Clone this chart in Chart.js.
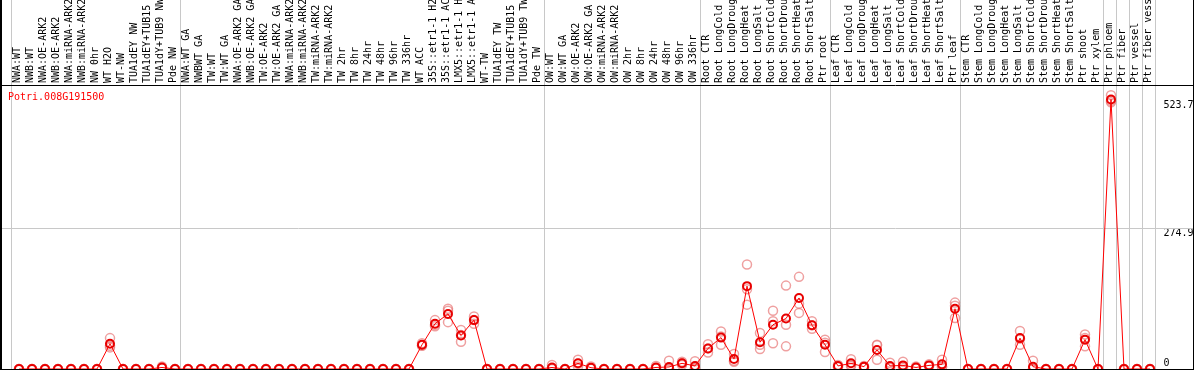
<!DOCTYPE html>
<html>
<head>
<meta charset="utf-8">
<script src="https://cdn.jsdelivr.net/npm/chart.js@4.4.1/dist/chart.umd.min.js"></script>
<style>
  html, body { margin: 0; padding: 0; background: #fff; }
  #wrap { width: 1194px; height: 370px; }
</style>
</head>
<body>
<div id="wrap"><canvas id="chart" width="1194" height="370"></canvas></div>
<script>
const geneName = 'Potri.008G191500';

const categories = [
  'NWA:WT', 'NWB:WT', 'NWA:OE-ARK2', 'NWB:OE-ARK2', 'NWA:miRNA-ARK2', 'NWB:miRNA-ARK2',
  'NW 0hr', 'WT H2O', 'WT-NW', 'TUA1dEY NW', 'TUA1dEY+TUB15', 'TUA1dY+TUB9 NW', 'Pde NW',
  'NWA:WT GA', 'NWBWT GA', 'TW:WT', 'TW:WT GA', 'NWA:OE-ARK2 GA', 'NWB:OE-ARK2 GA',
  'TW:OE-ARK2', 'TW:OE-ARK2 GA', 'NWA:miRNA-ARK2', 'NWB:miRNA-ARK2', 'TW:miRNA-ARK2', 'TW:miRNA-ARK2',
  'TW 2hr', 'TW 8hr', 'TW 24hr', 'TW 48hr', 'TW 96hr', 'TW 336hr', 'WT ACC',
  '35S::etr1-1 H2', '35S::etr1-1 AC', 'LMX5::etr1-1 H', 'LMX5::etr1-1 A',
  'WT-TW', 'TUA1dEY TW', 'TUA1dEY+TUB15', 'TUA1dY+TUB9 TW', 'Pde TW',
  'OW:WT', 'OW:WT GA', 'OW:OE-ARK2', 'OW:OE-ARK2 GA', 'OW:miRNA-ARK2', 'OW:miRNA-ARK2',
  'OW 2hr', 'OW 8hr', 'OW 24hr', 'OW 48hr', 'OW 96hr', 'OW 336hr',
  'Root CTR', 'Root LongCold', 'Root LongDroug', 'Root LongHeat', 'Root LongSalt',
  'Root ShortCold', 'Root ShortDrou', 'Root ShortHeat', 'Root ShortSalt', 'Ptr root',
  'Leaf CTR', 'Leaf LongCold', 'Leaf LongDroug', 'Leaf LongHeat', 'Leaf LongSalt',
  'Leaf ShortCold', 'Leaf ShortDrou', 'Leaf ShortHeat', 'Leaf ShortSalt', 'Ptr leaf',
  'Stem CTR', 'Stem LongCold', 'Stem LongDroug', 'Stem LongHeat', 'Stem LongSalt',
  'Stem ShortCold', 'Stem ShortDrou', 'Stem ShortHeat', 'Stem ShortSalt', 'Ptr shoot', 'Ptr xylem',
  'Ptr phloem', 'Ptr fiber', 'Ptr vessel', 'Ptr fiber vess'
];

// number of samples in each block between the grey separators
const groupSizes = [13, 28, 12, 10, 10, 11, 1, 1, 1, 1];

const meanValues = [
  0, 0, 0, 0, 0, 0, 0, 49, 0, 0, 0, 3, 0,
  0, 0, 0, 0, 0, 0, 0, 0, 0, 0, 0, 0, 0, 0, 0, 0, 0, 0, 47, 88, 107, 65, 95, 0, 0, 0, 0, 0,
  3, 0, 11, 2.5, 0, 0, 0, 0, 3, 4, 11, 6,
  40, 61, 19.5, 161, 52, 86, 98, 138, 85, 47,
  6, 11, 4.5, 37, 6, 7, 3, 7, 9, 117,
  0, 0, 0, 0, 60, 4.5, 0, 0, 0, 57, 0,
  523.7, 0, 0, 0
];
const rep1 = [
  0, 0, 0, 0, 0, 0, 0, 60, 0, 0, 0, 5, 0,
  0, 0, 0, 0, 0, 0, 0, 0, 0, 0, 0, 0, 0, 0, 0, 0, 0, 0, 50, 95, 117, 76, 102, 0, 0, 0, 0, 0,
  8, 0, 18, 5, 0, 0, 0, 0, 6, 16, 14, 15,
  48, 73, 29, 203, 70, 113, 162, 179, 93, 57,
  8, 19, 6, 47, 12, 14, 5, 9, 18, 129,
  0, 0, 0, 0, 74, 16, 0, 0, 0, 67, 0,
  532, 0, 0, 0
];
const rep2 = [
  0, 0, 0, 0, 0, 0, 0, 45, 0, 0, 0, 2, 0,
  0, 0, 0, 0, 0, 0, 0, 0, 0, 0, 0, 0, 0, 0, 0, 0, 0, 0, 46, 83, 91, 53, 95, 0, 0, 0, 0, 0,
  1, 0, 10, 2, 0, 0, 0, 0, 2, 1, 11, 2,
  32, 47, 16, 125, 39, 93, 86, 127, 85, 33,
  5, 8, 4, 18, 4, 5, 2, 6, 5, 99,
  0, 0, 0, 0, 47, 0, 0, 0, 0, 44, 0,
  518, 0, 0, 0
];
const rep3 = [
  0, 0, 0, 0, 0, 0, 0, 42, 0, 0, 0, 2, 0,
  0, 0, 0, 0, 0, 0, 0, 0, 0, 0, 0, 0, 0, 0, 0, 0, 0, 0, 45, 86, 113, 66, 88, 0, 0, 0, 0, 0,
  0, 0, 5, 1, 0, 0, 0, 0, 1, 0, 8, 1,
  40, 63, 14, 155, 47, 50, 44, 109, 78, 51,
  4, 6, 3, 46, 2, 2, 2, 6, 4, 123,
  0, 0, 0, 0, 59, 0, 0, 0, 0, 60, 0,
  521, 0, 0, 0
];

const yMax = 549.8;
const yTicks = [0, 274.9, 523.7];

const monoFont = { family: 'DejaVu Sans Mono', size: 10 };

// separators, mid grid line, black frame and the gene name
const framePlugin = {
  id: 'frame',
  beforeDatasetsDraw(chart) {
    const { ctx, chartArea: a, scales, width, height } = chart;
    const xs = scales.x, ys = scales.y;
    ctx.save();
    ctx.lineWidth = 1;

    ctx.strokeStyle = '#c8c8c8';
    let idx = 0;
    const bounds = [0];
    groupSizes.forEach(n => { idx += n; bounds.push(idx); });
    bounds.forEach(b => {
      const px = Math.round(xs.getPixelForValue(b - 0.5)) - 1.5;
      ctx.beginPath(); ctx.moveTo(px, 0); ctx.lineTo(px, a.bottom); ctx.stroke();
    });
    const gy = Math.round(ys.getPixelForValue(yTicks[1])) + 0.5;
    ctx.beginPath(); ctx.moveTo(0, gy); ctx.lineTo(width, gy); ctx.stroke();

    ctx.strokeStyle = '#000';
    ctx.beginPath(); ctx.moveTo(0, a.top - 0.5); ctx.lineTo(width, a.top - 0.5); ctx.stroke();
    ctx.beginPath(); ctx.moveTo(0, a.bottom + 0.5); ctx.lineTo(width, a.bottom + 0.5); ctx.stroke();
    ctx.beginPath(); ctx.moveTo(width - 0.5, 0); ctx.lineTo(width - 0.5, height); ctx.stroke();
    ctx.lineWidth = 2;
    ctx.beginPath(); ctx.moveTo(1, 0); ctx.lineTo(1, height); ctx.stroke();

    ctx.fillStyle = '#ff0000';
    ctx.font = '10px "DejaVu Sans Mono"';
    ctx.textBaseline = 'middle';
    ctx.fillText(geneName, 8, a.top + 11);
    ctx.restore();
  }
};

const replicate = (data) => ({
  data: data,
  showLine: false,
  pointRadius: 4.5,
  pointBorderWidth: 1.5,
  pointBorderColor: 'rgba(232, 120, 120, 0.7)',
  pointBackgroundColor: 'rgba(0,0,0,0)',
  order: 1
});

new Chart(document.getElementById('chart'), {
  type: 'line',
  data: {
    labels: categories,
    datasets: [
      {
        data: meanValues,
        borderColor: '#ff0000',
        borderWidth: 1,
        tension: 0,
        pointRadius: 4,
        pointBorderWidth: 2,
        pointBorderColor: '#e80000',
        pointBackgroundColor: 'rgba(0,0,0,0)',
        order: 0
      },
      replicate(rep1),
      replicate(rep2),
      replicate(rep3)
    ]
  },
  options: {
    responsive: false,
    animation: false,
    layout: { autoPadding: false, padding: { left: 12.5, right: 0, top: 0, bottom: 1 } },
    plugins: { legend: { display: false }, tooltip: { enabled: false } },
    scales: {
      x: {
        type: 'category',
        position: 'top',
        offset: true,
        grid: { display: false, drawTicks: false },
        border: { display: false },
        ticks: {
          autoSkip: false, minRotation: 90, maxRotation: 90, padding: 3, labelOffset: 10,
          color: '#000', font: monoFont
        },
        afterFit: s => { s.height = 86; s.paddingLeft = 0; s.paddingRight = 0; }
      },
      y: {
        position: 'right',
        min: 0,
        max: yMax,
        grid: { display: false, drawTicks: false },
        border: { display: false },
        afterBuildTicks: s => { s.ticks = yTicks.map(v => ({ value: v })); },
        ticks: {
          padding: 7, color: '#000', font: monoFont,
          callback: v => v === 0 ? ['0', ''] : ['', String(v)]
        },
        afterFit: s => { s.width = 37.5; s.paddingTop = 0; s.paddingBottom = 0; }
      }
    }
  },
  plugins: [framePlugin]
});
</script>
</body>
</html>
